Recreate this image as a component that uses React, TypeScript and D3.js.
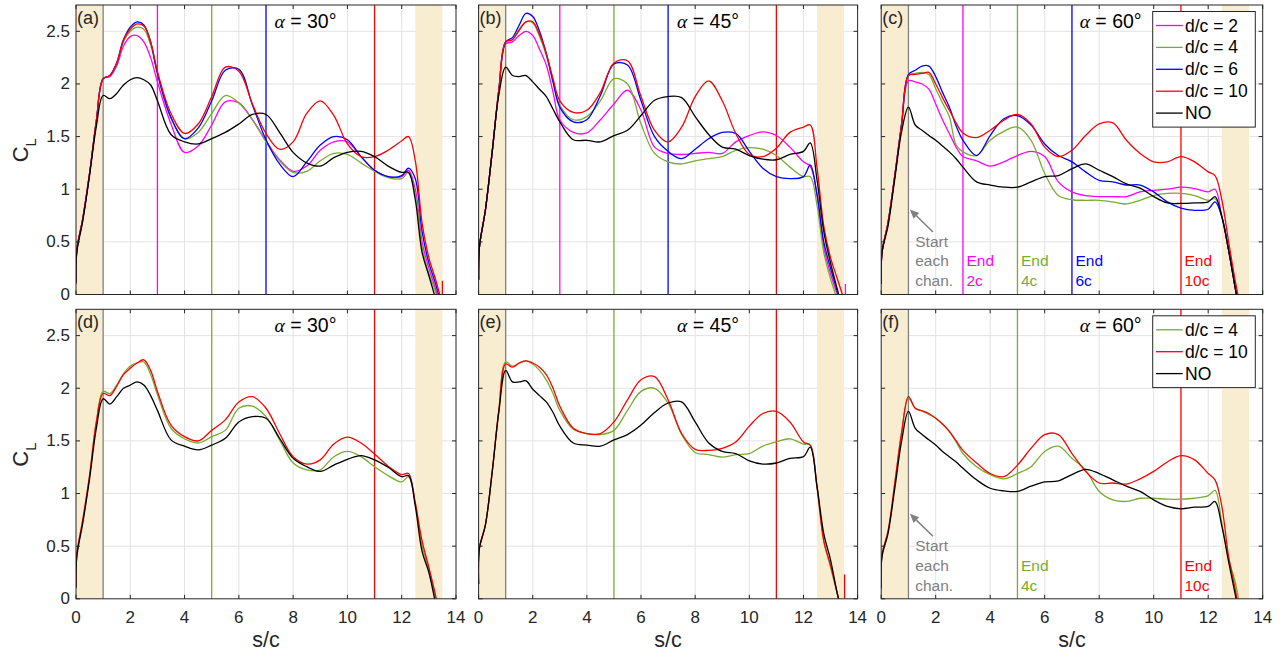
import React from 'react';
import * as d3 from 'd3';

// ---------- data ----------
const S_GRID = [0, 0.03, 0.25, 0.5, 0.75, 1, 1.25, 1.5, 1.75, 2, 2.25, 2.5, 2.75, 3, 3.5, 4, 4.5, 5, 5.5, 6, 6.5, 7, 7.5, 8, 8.5, 9, 9.5, 10, 10.5, 11, 11.5, 12, 12.25, 12.5, 12.75, 13, 13.25, 13.5];

// (a) alpha = 30
const A_D2 = [0.12, 0.42, 0.72, 1.15, 1.65, 2.05, 2.07, 2.17, 2.36, 2.45, 2.46, 2.40, 2.25, 2.02, 1.62, 1.35, 1.41, 1.61, 1.83, 1.82, 1.66, 1.46, 1.28, 1.17, 1.22, 1.37, 1.45, 1.45, 1.31, 1.18, 1.12, 1.12, 1.18, 1.0, 0.5, 0.25, 0.05, -0.2];
const A_D4 = [0.12, 0.42, 0.72, 1.15, 1.65, 2.05, 2.08, 2.19, 2.40, 2.50, 2.54, 2.52, 2.37, 2.10, 1.68, 1.48, 1.54, 1.72, 1.89, 1.82, 1.66, 1.45, 1.27, 1.16, 1.17, 1.27, 1.34, 1.33, 1.25, 1.17, 1.11, 1.10, 1.16, 0.95, 0.45, 0.2, 0.02, -0.3];
const A_D6 = [0.12, 0.42, 0.72, 1.15, 1.65, 2.05, 2.08, 2.20, 2.42, 2.54, 2.59, 2.56, 2.40, 2.10, 1.68, 1.48, 1.58, 1.84, 2.13, 2.14, 1.80, 1.47, 1.24, 1.12, 1.26, 1.42, 1.50, 1.47, 1.31, 1.18, 1.12, 1.13, 1.20, 1.10, 0.6, 0.3, 0.1, -0.15];
const A_D10 = [0.12, 0.42, 0.72, 1.15, 1.65, 2.05, 2.08, 2.20, 2.42, 2.52, 2.57, 2.55, 2.40, 2.12, 1.72, 1.53, 1.62, 1.88, 2.16, 2.12, 1.81, 1.53, 1.38, 1.45, 1.72, 1.84, 1.70, 1.43, 1.31, 1.31, 1.37, 1.46, 1.50, 1.27, 0.68, 0.35, 0.14, -0.1];
const A_NO = [0.1, 0.4, 0.7, 1.13, 1.6, 1.89, 1.86, 1.91, 1.99, 2.04, 2.06, 2.04, 1.99, 1.84, 1.52, 1.45, 1.43, 1.48, 1.54, 1.62, 1.71, 1.71, 1.54, 1.35, 1.25, 1.22, 1.30, 1.35, 1.36, 1.31, 1.22, 1.16, 1.16, 0.9, 0.4, 0.18, -0.05, -0.4];

// (b) alpha = 45
const B_D2 = [0.14, 0.45, 0.8, 1.35, 1.95, 2.38, 2.40, 2.46, 2.50, 2.46, 2.33, 2.18, 1.92, 1.66, 1.54, 1.535, 1.66, 1.81, 1.94, 1.75, 1.40, 1.34, 1.33, 1.34, 1.35, 1.34, 1.45, 1.51, 1.545, 1.51, 1.40, 1.26, 1.22, 0.95, 0.45, 0.2, 0.0, -0.2];
const B_D4 = [0.14, 0.45, 0.8, 1.35, 1.95, 2.40, 2.42, 2.52, 2.59, 2.58, 2.45, 2.27, 2.02, 1.80, 1.66, 1.69, 1.84, 2.05, 2.0, 1.62, 1.34, 1.26, 1.24, 1.27, 1.29, 1.31, 1.37, 1.395, 1.38, 1.32, 1.21, 1.12, 1.12, 0.85, 0.4, 0.15, -0.05, -0.3];
const B_D6 = [0.14, 0.45, 0.8, 1.35, 1.95, 2.40, 2.44, 2.56, 2.67, 2.64, 2.50, 2.29, 2.02, 1.78, 1.64, 1.66, 1.89, 2.19, 2.18, 1.84, 1.50, 1.36, 1.29, 1.38, 1.48, 1.54, 1.53, 1.36, 1.20, 1.12, 1.10, 1.12, 1.23, 0.95, 0.5, 0.25, 0.03, -0.2];
const B_D10 = [0.14, 0.45, 0.8, 1.35, 1.95, 2.40, 2.42, 2.51, 2.59, 2.59, 2.47, 2.29, 2.05, 1.84, 1.73, 1.75, 1.92, 2.20, 2.22, 1.88, 1.56, 1.45, 1.59, 1.88, 2.03, 1.84, 1.53, 1.33, 1.31, 1.39, 1.54, 1.59, 1.61, 1.21, 0.65, 0.35, 0.15, -0.05];
const B_NO = [0.14, 0.45, 0.8, 1.35, 1.9, 2.16, 2.08, 2.07, 2.08, 2.02, 1.95, 1.88, 1.76, 1.64, 1.47, 1.465, 1.45, 1.51, 1.56, 1.70, 1.845, 1.88, 1.87, 1.69, 1.52, 1.40, 1.38, 1.32, 1.285, 1.28, 1.33, 1.36, 1.44, 1.09, 0.6, 0.3, 0.05, -0.2];

// (c) alpha = 60
const C_D2 = [0.1, 0.4, 0.68, 1.13, 1.62, 2.03, 2.02, 2.0, 1.95, 1.81, 1.66, 1.53, 1.40, 1.31, 1.27, 1.22, 1.26, 1.32, 1.36, 1.31, 1.07, 0.975, 0.94, 0.93, 0.93, 0.93, 0.975, 0.99, 1.0, 1.02, 1.006, 0.975, 1.0, 0.74, 0.42, 0.05, -0.3, -0.6];
const C_D4 = [0.1, 0.4, 0.68, 1.13, 1.62, 2.08, 2.10, 2.11, 2.09, 1.955, 1.82, 1.69, 1.42, 1.355, 1.32, 1.465, 1.55, 1.59, 1.465, 1.15, 0.94, 0.90, 0.895, 0.895, 0.88, 0.86, 0.895, 0.94, 0.96, 0.96, 0.94, 0.895, 0.91, 0.74, 0.42, 0.05, -0.3, -0.6];
const C_D6 = [0.1, 0.4, 0.68, 1.13, 1.62, 2.09, 2.13, 2.17, 2.17, 2.07, 1.92, 1.78, 1.60, 1.465, 1.32, 1.51, 1.67, 1.70, 1.61, 1.43, 1.32, 1.26, 1.165, 1.085, 1.07, 1.04, 1.04, 0.975, 0.88, 0.82, 0.80, 0.81, 0.88, 0.74, 0.42, 0.05, -0.3, -0.6];
const C_D10 = [0.1, 0.4, 0.68, 1.13, 1.62, 2.08, 2.09, 2.10, 2.11, 2.0, 1.87, 1.75, 1.63, 1.535, 1.49, 1.56, 1.655, 1.71, 1.62, 1.40, 1.31, 1.37, 1.51, 1.62, 1.63, 1.465, 1.34, 1.26, 1.26, 1.31, 1.26, 1.165, 1.13, 0.90, 0.5, 0.12, -0.2, -0.5];
const C_NO = [0.1, 0.4, 0.65, 1.1, 1.55, 1.78, 1.61, 1.56, 1.51, 1.465, 1.41, 1.355, 1.29, 1.21, 1.07, 1.04, 1.02, 1.02, 1.07, 1.12, 1.13, 1.195, 1.24, 1.18, 1.12, 1.05, 1.01, 0.93, 0.87, 0.865, 0.87, 0.88, 0.93, 0.74, 0.42, 0.05, -0.3, -0.6];

// (d) alpha = 30
const D_D4 = [0.12, 0.42, 0.75, 1.17, 1.68, 1.97, 1.95, 2.03, 2.14, 2.21, 2.24, 2.25, 2.13, 1.94, 1.62, 1.52, 1.48, 1.54, 1.60, 1.81, 1.83, 1.73, 1.51, 1.29, 1.225, 1.225, 1.35, 1.40, 1.35, 1.255, 1.17, 1.11, 1.16, 0.91, 0.5, 0.28, 0.0, -0.3];
const D_D10 = [0.12, 0.42, 0.75, 1.17, 1.68, 1.95, 1.93, 2.02, 2.13, 2.19, 2.24, 2.27, 2.17, 1.97, 1.65, 1.54, 1.50, 1.60, 1.70, 1.87, 1.92, 1.81, 1.57, 1.35, 1.28, 1.32, 1.47, 1.535, 1.48, 1.375, 1.26, 1.18, 1.19, 0.91, 0.55, 0.3, 0.03, -0.3];
const D_NO = [0.1, 0.4, 0.72, 1.14, 1.62, 1.90, 1.85, 1.92, 2.0, 2.03, 2.06, 2.03, 1.93, 1.79, 1.51, 1.45, 1.415, 1.46, 1.525, 1.68, 1.73, 1.715, 1.525, 1.335, 1.255, 1.21, 1.27, 1.325, 1.36, 1.32, 1.25, 1.16, 1.17, 0.88, 0.45, 0.25, -0.05, -0.4];

// (e) alpha = 45
const E_D4 = [0.14, 0.48, 0.7, 1.2, 1.8, 2.25, 2.21, 2.24, 2.26, 2.23, 2.17, 2.08, 1.95, 1.79, 1.61, 1.57, 1.56, 1.60, 1.79, 1.97, 2.0, 1.86, 1.56, 1.39, 1.37, 1.345, 1.37, 1.38, 1.45, 1.49, 1.52, 1.47, 1.46, 1.05, 0.55, 0.3, 0.05, -0.2];
const E_D10 = [0.14, 0.48, 0.7, 1.2, 1.8, 2.23, 2.20, 2.24, 2.26, 2.24, 2.20, 2.13, 2.0, 1.83, 1.62, 1.57, 1.57, 1.68, 1.89, 2.08, 2.11, 1.89, 1.57, 1.42, 1.41, 1.43, 1.49, 1.64, 1.76, 1.78, 1.68, 1.49, 1.46, 1.07, 0.55, 0.32, 0.05, -0.2];
const E_NO = [0.14, 0.48, 0.7, 1.2, 1.78, 2.17, 2.06, 2.06, 2.07, 1.99, 1.93, 1.87, 1.77, 1.64, 1.48, 1.46, 1.45, 1.51, 1.56, 1.65, 1.77, 1.86, 1.87, 1.68, 1.48, 1.40, 1.38, 1.31, 1.28, 1.29, 1.335, 1.35, 1.44, 1.07, 0.62, 0.37, 0.05, -0.2];

// (f) alpha = 60
const F_D4 = [0.1, 0.42, 0.64, 1.1, 1.58, 1.905, 1.81, 1.785, 1.75, 1.715, 1.66, 1.59, 1.49, 1.38, 1.255, 1.18, 1.14, 1.19, 1.255, 1.40, 1.45, 1.335, 1.225, 1.02, 0.94, 0.925, 0.955, 0.955, 0.946, 0.946, 0.955, 0.98, 1.03, 0.72, 0.38, 0.15, -0.2, -0.5];
const F_D10 = [0.1, 0.42, 0.64, 1.1, 1.58, 1.92, 1.81, 1.785, 1.76, 1.715, 1.66, 1.59, 1.50, 1.41, 1.29, 1.19, 1.16, 1.27, 1.43, 1.56, 1.56, 1.38, 1.21, 1.10, 1.10, 1.09, 1.14, 1.21, 1.30, 1.36, 1.32, 1.19, 1.13, 0.877, 0.4, 0.08, -0.3, -0.6];
const F_NO = [0.1, 0.4, 0.62, 1.05, 1.5, 1.78, 1.62, 1.56, 1.51, 1.46, 1.40, 1.35, 1.30, 1.24, 1.13, 1.05, 1.025, 1.02, 1.07, 1.11, 1.12, 1.18, 1.23, 1.19, 1.13, 1.07, 1.02, 0.94, 0.877, 0.855, 0.87, 0.877, 0.924, 0.69, 0.35, 0.03, -0.3, -0.6];

// short end spikes [s, CL]
const SPIKE_A_RED = [13.5, 0.13];
const SPIKE_B_MAG = [13.55, 0.1];
const SPIKE_E_RED = [13.52, 0.23];

const X_TICKS = [0, 2, 4, 6, 8, 10, 12, 14];
const Y_TICKS = [0, 0.5, 1, 1.5, 2, 2.5];
const ALPHAS = [30, 45, 60, 30, 45, 60];
const PANEL_LABELS = ['(a)', '(b)', '(c)', '(d)', '(e)', '(f)'];
const END_TOP = [3, 5, 7, 11];
const END_BOTTOM = [5, 11];
const END_LABELS = ['2c', '4c', '6c', '10c'];
const START_S = 1;
const SHADE_BANDS = [[0, 1], [12.5, 13.5]];
const LEGEND_TOP = ['d/c = 2', 'd/c = 4', 'd/c = 6', 'd/c = 10', 'NO'];
const LEGEND_BOTTOM = ['d/c = 4', 'd/c = 10', 'NO'];

// ---------- style ----------
const MAG = '#ff00ff';
const GRN = '#77ac30';
const BLU = '#0000ff';
const RED = '#ff0000';
const BLK = '#000000';
const GRAY = '#808080';
const SHADE = '#f8ecd1';
const AX = '#262626';
const FONT = '"Liberation Sans", Arial, Helvetica, sans-serif';

const COL_LEFT = [76, 478.6, 881.2];
const COL_W = [380, 379, 381.5];
const ROW_TOP = [5, 309.3];
const PH = 289.5;

const lineGen = (x: any, y: any) =>
  d3.line<number[]>().x(d => x(d[0])).y(d => y(d[1])).curve(d3.curveCatmullRom.alpha(0.5));

function Panel({ idx, series, ends, endColors, legend, legendColors, annotate, spikes }: any) {
  const col = idx % 3;
  const row = Math.floor(idx / 3);
  const left = COL_LEFT[col];
  const right = left + COL_W[col];
  const top = ROW_TOP[row];
  const bottom = top + PH;
  const x = d3.scaleLinear().domain([0, 14]).range([left, right]);
  const y = d3.scaleLinear().domain([0, 2.75]).range([bottom, top]);
  const gen = lineGen(x, y);
  const clipId = `clip${idx}`;
  const tickLen = 4;

  const legendBox = legend ? {
    x0: right - 110, y0: top + 6.5, w: 102.6, h: 14 + (legend.length - 1) * 21.9 + 14,
  } : null;

  const sx = x(START_S);
  const head = [sx + 1.5, bottom - 85];
  const tail = [sx + 24.5, bottom - 62.5];
  const ang = Math.atan2(head[1] - tail[1], head[0] - tail[0]);
  const ah = 9, aw = 4;
  const bx = head[0] - ah * Math.cos(ang), by = head[1] - ah * Math.sin(ang);
  const arrowPts = [
    head,
    [bx + aw * Math.sin(ang), by - aw * Math.cos(ang)],
    [bx - aw * Math.sin(ang), by + aw * Math.cos(ang)],
  ].map(p => p.join(',')).join(' ');

  return (
    <g>
      <defs>
        <clipPath id={clipId}>
          <rect x={left} y={top} width={right - left} height={bottom - top} />
        </clipPath>
      </defs>
      <rect x={left} y={top} width={right - left} height={bottom - top} fill="#fff" />
      {/* grid */}
      {X_TICKS.slice(1, -1).map(t => (
        <line key={'gx' + t} x1={x(t)} x2={x(t)} y1={top} y2={bottom} stroke="#e3e3e3" strokeWidth={1} />
      ))}
      {Y_TICKS.slice(1).map(t => (
        <line key={'gy' + t} x1={left} x2={right} y1={y(t)} y2={y(t)} stroke="#e3e3e3" strokeWidth={1} />
      ))}
      {/* shaded bands */}
      {SHADE_BANDS.map((b, i) => (
        <rect key={'sh' + i} x={x(b[0])} y={top} width={x(b[1]) - x(b[0])} height={bottom - top} fill={SHADE} />
      ))}
      {/* end lines */}
      {ends.map((e: number, i: number) => (
        <line key={'e' + i} x1={x(e)} x2={x(e)} y1={top} y2={bottom} stroke={endColors[i]} strokeWidth={1.3} />
      ))}
      <line x1={x(START_S)} x2={x(START_S)} y1={top} y2={bottom} stroke={GRAY} strokeWidth={1.3} />
      {/* curves */}
      <g clipPath={`url(#${clipId})`}>
        {series.map((s: any, i: number) => (
          <path key={'c' + i} d={gen(S_GRID.map((sv, k) => [sv, s.values[k]])) || ''} fill="none" stroke={s.color} strokeWidth={1.3} />
        ))}
        {spikes.map((sp: any, i: number) => (
          <line key={'sp' + i} x1={x(sp.v[0])} x2={x(sp.v[0])} y1={y(0)} y2={y(sp.v[1])} stroke={sp.color} strokeWidth={1.3} />
        ))}
      </g>
      {/* annotations */}
      {annotate && (
        <g fontFamily={FONT} fontSize={15.5}>
          <line x1={tail[0]} y1={tail[1]} x2={bx} y2={by} stroke={GRAY} strokeWidth={1.5} />
          <polygon points={arrowPts} fill={GRAY} />
          <text x={sx + 6.8} y={bottom - 47.6} fill={GRAY}>Start</text>
          <text x={sx + 6.8} y={bottom - 28.3} fill={GRAY}>each</text>
          <text x={sx + 6.8} y={bottom - 8.3} fill={GRAY}>chan.</text>
          {ends.map((e: number, i: number) => (
            <g key={'el' + i} fill={endColors[i]}>
              <text x={x(e) + 3.5} y={bottom - 28.3}>End</text>
              <text x={x(e) + 3.5} y={bottom - 8.3}>{annotate[i]}</text>
            </g>
          ))}
        </g>
      )}
      {/* axes box and ticks */}
      <rect x={left} y={top} width={right - left} height={bottom - top} fill="none" stroke={AX} strokeWidth={1} />
      {X_TICKS.map(t => (
        <g key={'tx' + t}>
          <line x1={x(t)} x2={x(t)} y1={bottom} y2={bottom - tickLen} stroke={AX} />
          <line x1={x(t)} x2={x(t)} y1={top} y2={top + tickLen} stroke={AX} />
        </g>
      ))}
      {Y_TICKS.map(t => (
        <g key={'ty' + t}>
          <line x1={left} x2={left + tickLen} y1={y(t)} y2={y(t)} stroke={AX} />
          <line x1={right} x2={right - tickLen} y1={y(t)} y2={y(t)} stroke={AX} />
        </g>
      ))}
      {col === 0 && Y_TICKS.map(t => (
        <text key={'ly' + t} x={left - 6} y={y(t)} textAnchor="end" dominantBaseline="central"
          fontFamily={FONT} fontSize={17} fill={AX}>{String(t)}</text>
      ))}
      {row === 1 && X_TICKS.map(t => (
        <text key={'lx' + t} x={x(t)} y={bottom + 24} textAnchor="middle"
          fontFamily={FONT} fontSize={17} fill={AX}>{String(t)}</text>
      ))}
      {row === 1 && (
        <text x={(left + right) / 2} y={647} textAnchor="middle" fontFamily={FONT} fontSize={21.5} fill={AX}>s/c</text>
      )}
      {col === 0 && (
        <text transform={`translate(28,${(top + bottom) / 2 + 0.5}) rotate(-90)`} textAnchor="middle"
          fontFamily={FONT} fontSize={22} fill={AX}>C<tspan fontSize={15} dy={8}>L</tspan></text>
      )}
      {/* panel label and alpha */}
      <text x={left + 1} y={top + 19} fontFamily={FONT} fontSize={18} fill={AX}>{PANEL_LABELS[idx]}</text>
      <text x={left + 198.5} y={top + 22.7} fontFamily={FONT} fontSize={19.5} fill={BLK}>
        <tspan fontFamily='"Liberation Serif", "DejaVu Serif", serif' fontStyle="italic">α</tspan>
        <tspan>{` = ${ALPHAS[idx]}°`}</tspan>
      </text>
      {/* legend */}
      {legendBox && (
        <g>
          <rect x={legendBox.x0} y={legendBox.y0} width={legendBox.w} height={legendBox.h} fill="#fff" stroke={AX} strokeWidth={1} />
          {legend.map((lab: string, i: number) => {
            const cy = legendBox.y0 + 14 + i * 21.9;
            return (
              <g key={'lg' + i}>
                <line x1={legendBox.x0 + 3.3} x2={legendBox.x0 + 30} y1={cy} y2={cy} stroke={legendColors[i]} strokeWidth={1.3} />
                <text x={legendBox.x0 + 32.3} y={cy} dominantBaseline="central" fontFamily={FONT} fontSize={17.5} fill={BLK}>{lab}</text>
              </g>
            );
          })}
        </g>
      )}
    </g>
  );
}

export default function App() {
  const topColors = [MAG, GRN, BLU, RED, BLK];
  const botColors = [GRN, RED, BLK];
  const topSets = [
    [A_D2, A_D4, A_D6, A_D10, A_NO],
    [B_D2, B_D4, B_D6, B_D10, B_NO],
    [C_D2, C_D4, C_D6, C_D10, C_NO],
  ];
  const botSets = [
    [D_D4, D_D10, D_NO],
    [E_D4, E_D10, E_NO],
    [F_D4, F_D10, F_NO],
  ];
  const spikes: any[] = [
    [{ v: SPIKE_A_RED, color: RED }],
    [{ v: SPIKE_B_MAG, color: MAG }],
    [],
    [],
    [{ v: SPIKE_E_RED, color: RED }],
    [],
  ];
  const panels: any[] = [];
  for (let i = 0; i < 6; i++) {
    const row = Math.floor(i / 3);
    const col = i % 3;
    if (row === 0) {
      panels.push({
        idx: i,
        series: topSets[col].map((v, k) => ({ values: v, color: topColors[k] })),
        ends: END_TOP, endColors: [MAG, GRN, BLU, RED],
        legend: col === 2 ? LEGEND_TOP : null, legendColors: topColors,
        annotate: col === 2 ? END_LABELS : null,
        spikes: spikes[i],
      });
    } else {
      panels.push({
        idx: i,
        series: botSets[col].map((v, k) => ({ values: v, color: botColors[k] })),
        ends: END_BOTTOM, endColors: [GRN, RED],
        legend: col === 2 ? LEGEND_BOTTOM : null, legendColors: botColors,
        annotate: col === 2 ? [END_LABELS[1], END_LABELS[3]] : null,
        spikes: spikes[i],
      });
    }
  }
  return (
    <svg width={1288} height={655} style={{ position: 'absolute', left: 0, top: 0, background: '#fff' }}>
      <rect x={0} y={0} width={1288} height={655} fill="#fff" />
      {panels.map(p => <Panel key={p.idx} {...p} />)}
    </svg>
  );
}
